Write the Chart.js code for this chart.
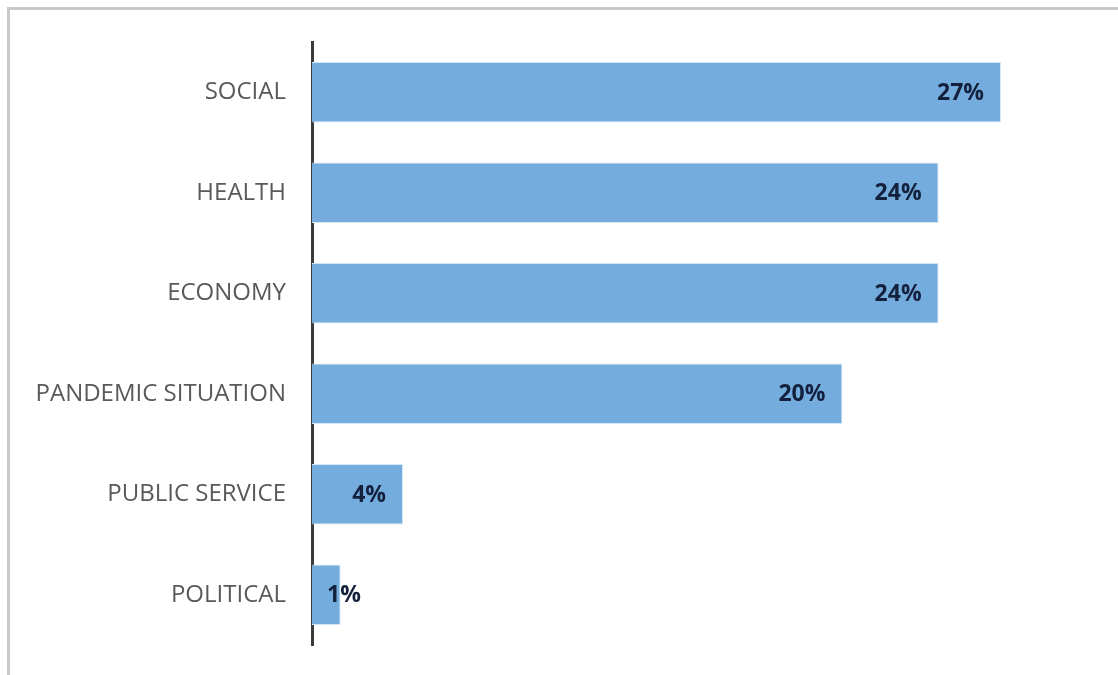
<!DOCTYPE html>
<html>
<head>
<meta charset="utf-8">
<script src="https://cdn.jsdelivr.net/npm/chart.js@4/dist/chart.umd.min.js"></script>
<style>
    html, body { margin: 0; padding: 0; background: #fff; }
    #wrap { position: relative; width: 1118px; height: 675px; overflow: hidden; }
    #frame {
        position: absolute; left: 7px; top: 7px; right: 0; bottom: 0;
        border-top: 3px solid #c9c9c9;
        border-left: 3px solid #c9c9c9;
    }
    #chart { position: absolute; left: 0; top: 0; }
</style>
</head>
<body>
<div id="wrap">
    <div id="frame"></div>
    <canvas id="chart" width="1118" height="675"></canvas>
</div>
<script>
// categories, top to bottom
const categories = ['SOCIAL', 'HEALTH', 'ECONOMY', 'PANDEMIC SITUATION', 'PUBLIC SERVICE', 'POLITICAL'];
// bar lengths (percent)
const shares = [26.5, 24.1, 24.1, 20.4, 3.5, 1.1];
// labels printed on the bars
const shareLabels = ['27%', '24%', '24%', '20%', '4%', '1%'];

const barColour = '#74acde';

// "inside end" labels like the office chart: right aligned at the bar end,
// pushed right of the bar start when the bar is too short
const insideEndLabels = {
    id: 'insideEndLabels',
    afterDatasetsDraw(chart) {
        const ctx = chart.ctx;
        const meta = chart.getDatasetMeta(0);
        ctx.save();
        ctx.font = 'bold 23px "Open Sans", sans-serif';
        ctx.fillStyle = '#14213d';
        ctx.textBaseline = 'middle';
        ctx.textAlign = 'left';
        meta.data.forEach((bar, i) => {
            const text = shareLabels[i];
            const w = ctx.measureText(text).width;
            const tx = Math.max(bar.x - 17 - w, bar.base + 15);
            ctx.fillText(text, tx, bar.y + 1);
        });
        ctx.restore();
    }
};

new Chart(document.getElementById('chart'), {
    type: 'bar',
    data: {
        labels: categories,
        datasets: [{
            data: shares,
            backgroundColor: barColour,
            borderColor: '#d4e5f5',
            borderWidth: 1,
            categoryPercentage: 1,
            barPercentage: 0.6
        }]
    },
    options: {
        indexAxis: 'y',
        responsive: false,
        animation: false,
        layout: {
            padding: {top: 42, bottom: 30, left: 0, right: 26}
        },
        plugins: {
            legend: {display: false},
            tooltip: {enabled: false}
        },
        scales: {
            x: {
                display: false,
                min: 0,
                max: 30
            },
            y: {
                afterFit(scale) {
                    scale.width = 312;
                    // keep the label heights from eating into the plot area
                    scale.paddingTop = 0;
                    scale.paddingBottom = 0;
                },
                grid: {display: true, drawOnChartArea: false, drawTicks: false},
                border: {display: true, color: '#3a3a3a', width: 3},
                ticks: {
                    padding: 26,
                    color: '#595959',
                    font: {family: '"Open Sans", sans-serif', size: 24}
                }
            }
        }
    },
    plugins: [insideEndLabels]
});
</script>
</body>
</html>
